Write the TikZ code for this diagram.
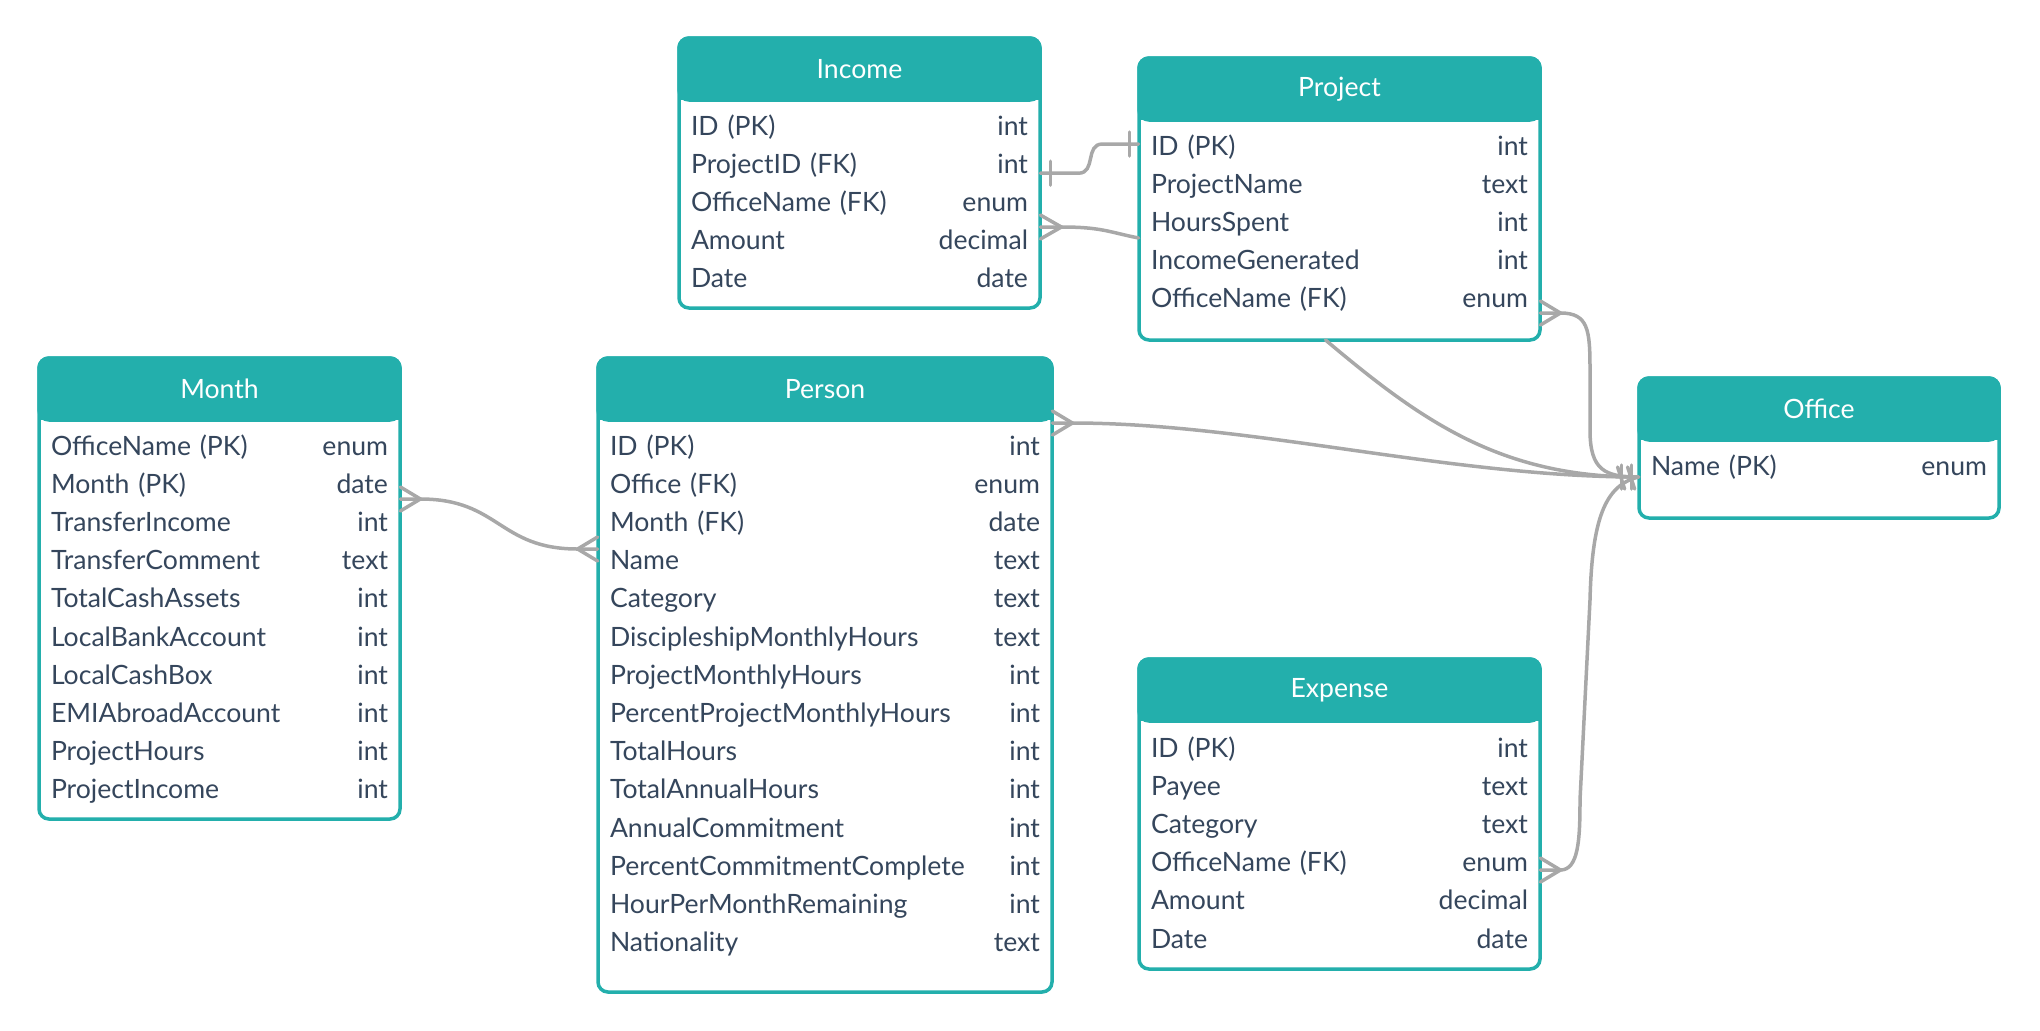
\documentclass[tikz,border=0pt]{standalone}
\usepackage{fontspec}
\setmainfont{Lato}
\setlength{\parindent}{0pt}
\definecolor{erteal}{HTML}{23AFAC}
\definecolor{erink}{HTML}{35465C}
\definecolor{ergrey}{HTML}{A8A8A8}

\begin{document}
\begin{tikzpicture}[x=0.5pt,y=-0.5pt,font=\fontsize{13.3}{15}\selectfont]
    \tikzstyle{tablebox}=[draw=erteal,fill=white,line width=1.75pt,rounded corners=5pt,anchor=north,inner sep=0pt,outer sep=0pt]
    \tikzstyle{tablehead}=[tablebox,fill=erteal,text=white,minimum height=31pt]
    \tikzstyle{field}=[text=erink,inner xsep=6pt,inner ysep=0pt,minimum height=19.1pt,text height=9.5pt,text depth=2.5pt]
    \tikzstyle{rel}=[draw=ergrey,line width=1.75pt,line cap=round]

    \useasboundingbox (0,0) rectangle (2040,1030);

    % Income table
    \node[tablebox,minimum width=180.5pt,minimum height=135pt] (Income) at (859.5,38) {};
    \fill[erteal] ([yshift=-15pt]Income.north west) rectangle ([yshift=-31pt]Income.north east);
    \node[tablehead,minimum width=180.5pt] (Income-title) at (859.5,38) {Income};
    \foreach \name/\kind [count=\i] in {ID (PK)/int, ProjectID (FK)/int, OfficeName (FK)/enum, Amount/decimal, Date/date}
        \node[field,text width=168.5pt] (Income-\i) at (859.5,{128+(\i-1)*38.2}) {\name\hfill\kind};

    % Project table
    \node[tablebox,minimum width=200.5pt,minimum height=141pt] (Project) at (1339.5,58) {};
    \fill[erteal] ([yshift=-15pt]Project.north west) rectangle ([yshift=-31pt]Project.north east);
    \node[tablehead,minimum width=200.5pt] (Project-title) at (1339.5,58) {Project};
    \foreach \name/\kind [count=\i] in {ID (PK)/int, ProjectName/text, HoursSpent/int, IncomeGenerated/int, OfficeName (FK)/enum}
        \node[field,text width=188.5pt] (Project-\i) at (1339.5,{148+(\i-1)*38.2}) {\name\hfill\kind};

    % Month table
    \node[tablebox,minimum width=180.5pt,minimum height=230.5pt] (Month) at (219.5,358) {};
    \fill[erteal] ([yshift=-15pt]Month.north west) rectangle ([yshift=-31pt]Month.north east);
    \node[tablehead,minimum width=180.5pt] (Month-title) at (219.5,358) {Month};
    \foreach \name/\kind [count=\i] in {OfficeName (PK)/enum, Month (PK)/date, TransferIncome/int, TransferComment/text, TotalCashAssets/int, LocalBankAccount/int, LocalCashBox/int, EMIAbroadAccount/int, ProjectHours/int, ProjectIncome/int}
        \node[field,text width=168.5pt] (Month-\i) at (219.5,{448+(\i-1)*38.2}) {\name\hfill\kind};

    % Person table
    \node[tablebox,minimum width=227pt,minimum height=317pt] (Person) at (825,358) {};
    \fill[erteal] ([yshift=-15pt]Person.north west) rectangle ([yshift=-31pt]Person.north east);
    \node[tablehead,minimum width=227pt] (Person-title) at (825,358) {Person};
    \foreach \name/\kind [count=\i] in {ID (PK)/int, Office (FK)/enum, Month (FK)/date, Name/text, Category/text, DiscipleshipMonthlyHours/text, ProjectMonthlyHours/int, PercentProjectMonthlyHours/int, TotalHours/int, TotalAnnualHours/int, AnnualCommitment/int, PercentCommitmentComplete/int, HourPerMonthRemaining/int, Nationality/text}
        \node[field,text width=215pt] (Person-\i) at (825,{448+(\i-1)*38.2}) {\name\hfill\kind};

    % Office table
    \node[tablebox,minimum width=180pt,minimum height=70pt] (Office) at (1819,378) {};
    \fill[erteal] ([yshift=-15pt]Office.north west) rectangle ([yshift=-31pt]Office.north east);
    \node[tablehead,minimum width=180pt] (Office-title) at (1819,378) {Office};
    \node[field,text width=168pt] (Office-1) at (1819,468) {Name (PK)\hfill enum};

    % Expense table
    \node[tablebox,minimum width=200.5pt,minimum height=155pt] (Expense) at (1339.5,659) {};
    \fill[erteal] ([yshift=-15pt]Expense.north west) rectangle ([yshift=-31pt]Expense.north east);
    \node[tablehead,minimum width=200.5pt] (Expense-title) at (1339.5,659) {Expense};
    \foreach \name/\kind [count=\i] in {ID (PK)/int, Payee/text, Category/text, OfficeName (FK)/enum, Amount/decimal, Date/date}
        \node[field,text width=188.5pt] (Expense-\i) at (1339.5,{750+(\i-1)*38.2}) {\name\hfill\kind};

    % Ends of the relations
    \coordinate (m-out) at ([yshift=-6.4pt]Month-2.east);
    \coordinate (p-in) at ([yshift=6.8pt]Person-4.west);
    \coordinate (i-out) at ([yshift=-3.5pt]Income-2.east);
    \coordinate (pj-in) at ([yshift=2pt]Project-1.west);
    \coordinate (ia) at ([yshift=7.8pt]Income-4.east);
    \coordinate (pb) at ([yshift=-6.8pt]Project-3.west);
    \coordinate (pc) at ([yshift=-6.1pt]Project-5.east);
    \coordinate (pa) at ([yshift=12.5pt]Person-1.east);
    \coordinate (pd) at ([xshift=-7pt]Project.south);
    \coordinate (ea) at ([yshift=-2.7pt]Expense-4.east);
    \coordinate (oa) at ([yshift=-4.5pt]Office-1.west);

    % Month - Person
    \draw[rel] (m-out) ++(0,-12) -- ++(20,12) -- ++(-20,12);
    \draw[rel] (p-in) ++(0,-12) -- ++(-20,12) -- ++(20,12);
    \draw[rel] (m-out) -- ++(20,0) .. controls +(79,0) and +(-79,0) .. ([xshift=-10pt]p-in) -- (p-in);

    % Income - Project
    \draw[rel] (i-out) -- ++(38,0) .. controls +(18,0) and +(-18,0) .. ([xshift=-18pt]pj-in) -- (pj-in);
    \draw[rel] (i-out) ++(10,-12) -- ++(0,24);
    \draw[rel] (pj-in) ++(-9,-12) -- ++(0,24);
    \draw[rel] (ia) ++(0,-12) -- ++(21,12) -- ++(-21,12);
    \draw[rel] (ia) -- ++(21,0) .. controls +(40,0) and +(-30,-6) .. (pb);

    % Everything into Office
    \draw[rel] (pc) ++(0,-12) -- ++(20,12) -- ++(-20,12);
    \draw[rel] (pc) -- ++(20,0) .. controls +(28,0) and +(0,-40) .. (1590,370) -- (1590,430) .. controls +(0,40) and +(-34,0) .. (oa);
    \draw[rel] (pa) ++(0,-12) -- ++(20,12) -- ++(-20,12);
    \draw[rel] (pa) -- ++(20,0) .. controls +(178,0) and +(-189,0) .. (oa);
    \draw[rel] (pd) .. controls +(95,80) and +(-139,0) .. (oa);
    \draw[rel] (ea) ++(0,-12) -- ++(20,12) -- ++(-20,12);
    \draw[rel] (ea) -- ++(20,0) .. controls +(18,0) and +(0,40) .. (1580,800) -- (1590,600) .. controls +(2,-80) and +(-34,8) .. (oa);
    \draw[rel] (oa) ++(-17,-12) -- ++(0,24);
    \draw[rel] (oa) ++(-7,-12) -- ++(0,24);
    \draw[rel] (oa) ++(-21,-10) -- ++(7,22);
    \draw[rel] (oa) ++(-11,-10) -- ++(7,22);
\end{tikzpicture}
\end{document}
